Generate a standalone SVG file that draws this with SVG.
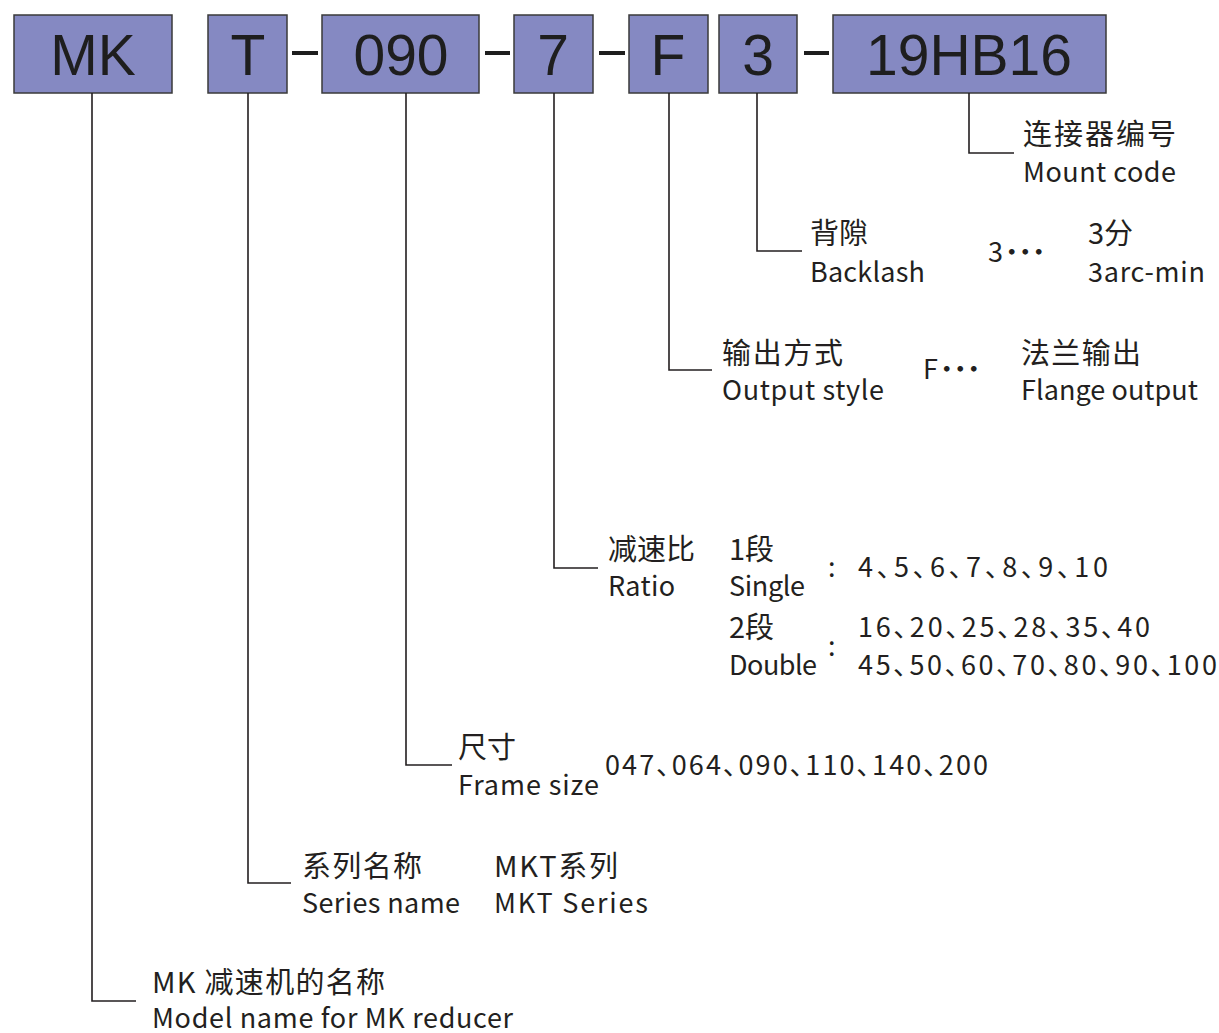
<svg xmlns="http://www.w3.org/2000/svg" width="1219" height="1033" viewBox="0 0 1219 1033">
<style>
.box{fill:#8589c2;stroke:#3a3a3a;stroke-width:1.5}
.code{font-family:"Liberation Sans",Arial,sans-serif;font-size:57px;fill:#1e1e1e;text-anchor:middle}
.dash{stroke:#1e1e1e;stroke-width:4}
.cn{font-family:"Noto Sans CJK SC","Noto Sans CJK JP",sans-serif;font-size:29px;fill:#231f20}
.en{font-family:"Noto Sans CJK SC","Noto Sans CJK JP",sans-serif;font-size:27px;fill:#231f20}
.num{font-family:"Noto Sans CJK SC","Noto Sans CJK JP",sans-serif;font-size:27px;fill:#231f20;font-feature-settings:"palt"}
.dots{font-weight:900}
.conn{fill:none;stroke:#231f20;stroke-width:1.6}
</style>
<rect width="1219" height="1033" fill="#ffffff"/>
<g id="code">
<g id="box-mk"><rect class="box" x="14" y="15" width="158" height="78"/><text class="code" x="93" y="75">MK</text></g>
<g id="box-t"><rect class="box" x="208" y="15" width="79" height="78"/><text class="code" x="248" y="75">T</text></g>
<line class="dash" x1="292" y1="53" x2="318" y2="53"/>
<g id="box-090"><rect class="box" x="322" y="15" width="157" height="78"/><text class="code" x="401" y="75">090</text></g>
<line class="dash" x1="485" y1="53" x2="510" y2="53"/>
<g id="box-7"><rect class="box" x="514" y="15" width="79" height="78"/><text class="code" x="553" y="75">7</text></g>
<line class="dash" x1="599" y1="53" x2="625" y2="53"/>
<g id="box-f"><rect class="box" x="629" y="15" width="79" height="78"/><text class="code" x="668" y="75">F</text></g>
<g id="box-3"><rect class="box" x="719" y="15" width="78" height="78"/><text class="code" x="758" y="75">3</text></g>
<line class="dash" x1="804" y1="53" x2="829" y2="53"/>
<g id="box-19hb16"><rect class="box" x="833" y="15" width="273" height="78"/><text class="code" x="969" y="75">19HB16</text></g>
</g>
<g id="connectors">
<path class="conn" d="M92 93 V1001 H136"/>
<path class="conn" d="M248 93 V883 H291"/>
<path class="conn" d="M406 93 V765 H452"/>
<path class="conn" d="M554 93 V568 H598"/>
<path class="conn" d="M669 93 V370 H712"/>
<path class="conn" d="M757 93 V251 H802"/>
<path class="conn" d="M969 93 V153 H1014"/>
</g>
<g id="mount-code">
<text class="cn" x="1023" y="145" textLength="153">连接器编号</text>
<text class="en" x="1023" y="182" textLength="153">Mount code</text>
</g>
<g id="backlash">
<text class="cn" x="810" y="244">背隙</text>
<text class="en" x="810" y="282" textLength="115">Backlash</text>
<text class="num" x="988" y="262">3<tspan class="dots" dx="2">･･･</tspan></text>
<text class="cn" x="1088" y="244">3分</text>
<text class="en" x="1088" y="282" textLength="117">3arc-min</text>
</g>
<g id="output-style">
<text class="cn" x="722" y="364" textLength="121">输出方式</text>
<text class="en" x="722" y="400" textLength="162">Output style</text>
<text class="num" x="923" y="379">F<tspan class="dots" dx="2">･･･</tspan></text>
<text class="cn" x="1021" y="364" textLength="120">法兰输出</text>
<text class="en" x="1021" y="400" textLength="177">Flange output</text>
</g>
<g id="ratio">
<text class="cn" x="608" y="560">减速比</text>
<text class="en" x="608" y="596" textLength="67">Ratio</text>
<text class="cn" x="729" y="560">1段</text>
<text class="en" x="729" y="596" textLength="76">Single</text>
<text class="num" x="828" y="577">:</text>
<text class="num" x="858" y="577" textLength="250">4、5、6、7、8、9、10</text>
<text class="cn" x="729" y="638">2段</text>
<text class="en" x="729" y="675" textLength="88">Double</text>
<text class="num" x="828" y="656">:</text>
<text class="num" x="858" y="637" textLength="292">16、20、25、28、35、40</text>
<text class="num" x="858" y="675" textLength="359">45、50、60、70、80、90、100</text>
</g>
<g id="frame-size">
<text class="cn" x="458" y="758">尺寸</text>
<text class="en" x="458" y="795" textLength="141">Frame size</text>
<text class="num" x="605" y="775" textLength="383">047、064、090、110、140、200</text>
</g>
<g id="series">
<text class="cn" x="302" y="877" textLength="120">系列名称</text>
<text class="en" x="302" y="913" textLength="158">Series name</text>
<text class="cn" x="494" y="877" textLength="124">MKT系列</text>
<text class="en" x="494" y="913" textLength="154">MKT Series</text>
</g>
<g id="model">
<text class="cn" x="152" y="993" textLength="233">MK 减速机的名称</text>
<text class="en" x="152" y="1028" textLength="361">Model name for MK reducer</text>
</g>
</svg>
